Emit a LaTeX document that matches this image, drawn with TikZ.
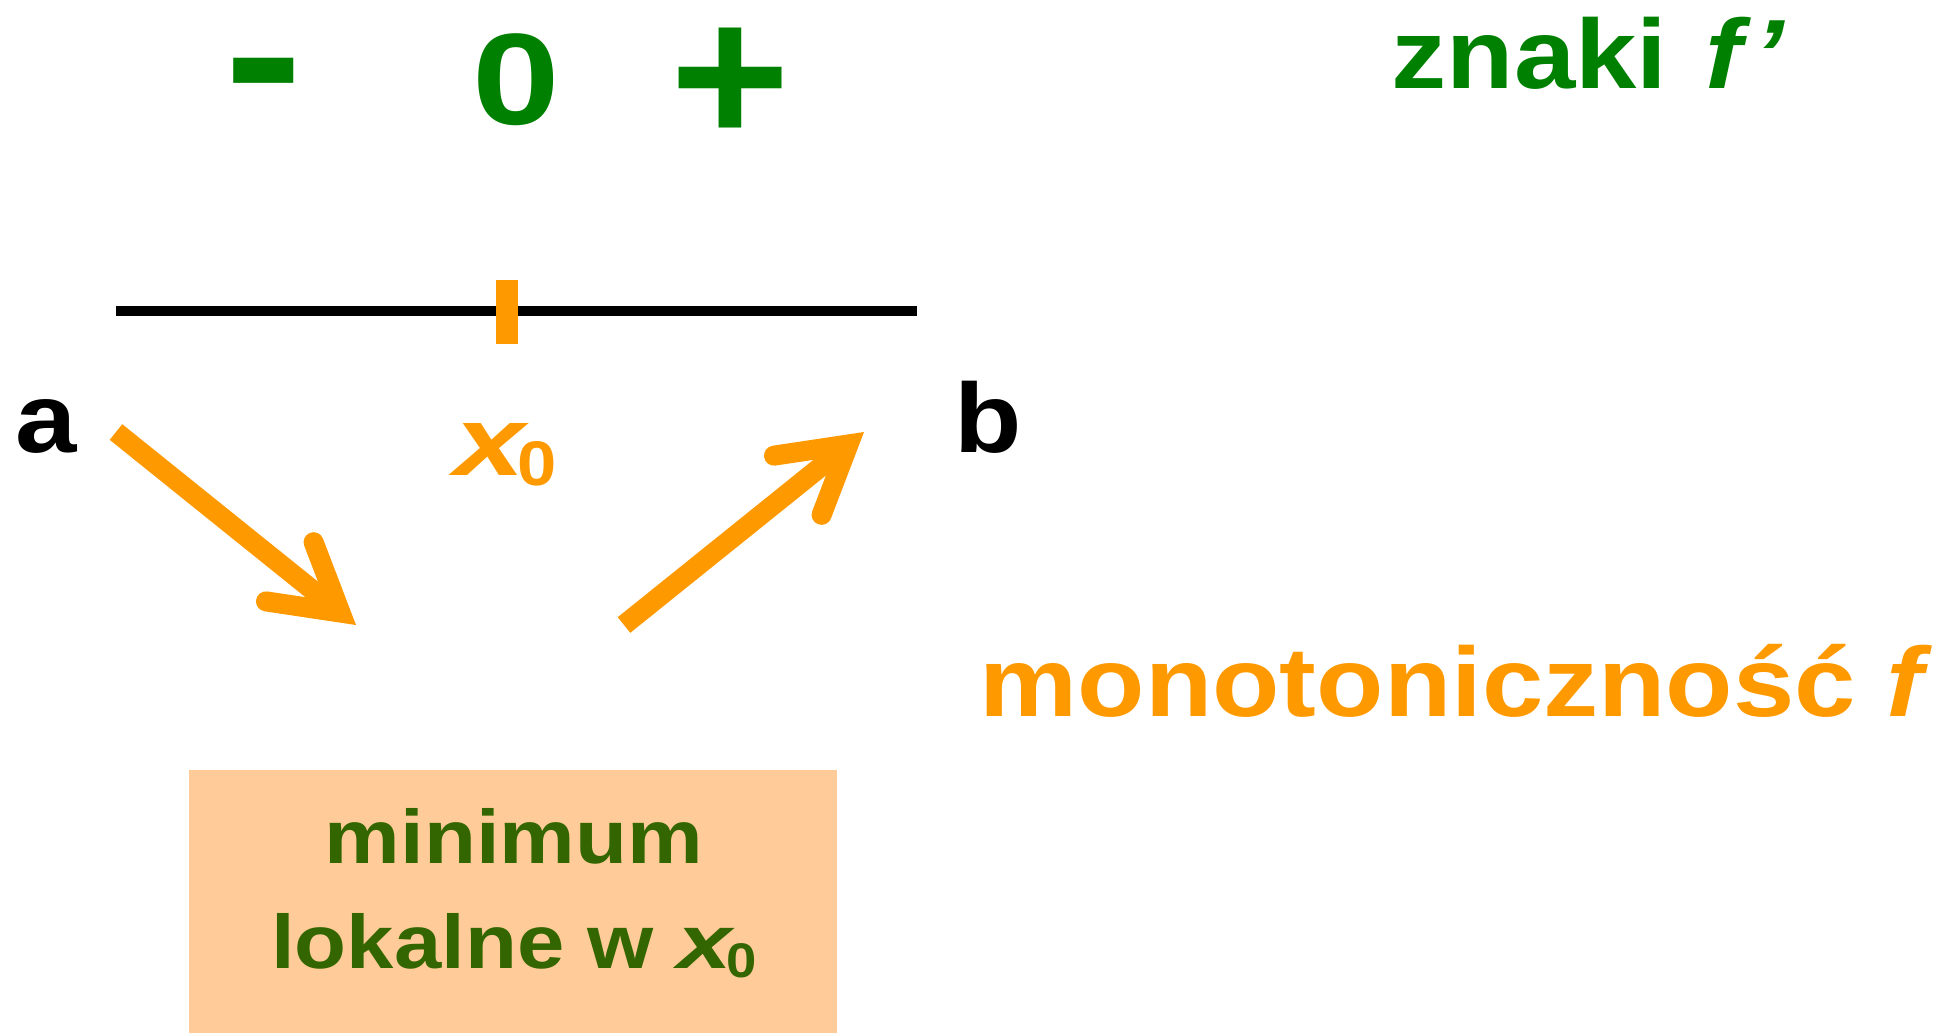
\documentclass[tikz,border=0pt]{standalone}
\usepackage{fontspec}
\setmainfont{Liberation Sans}[FakeStretch=1.12]
\usepackage{graphicx}
\usepackage{tikz}
\usetikzlibrary{arrows.meta}

\definecolor{signgreen}{HTML}{008000}
\definecolor{mono}{HTML}{FF9900}
\definecolor{peach}{HTML}{FFCC99}
\definecolor{boxgreen}{HTML}{336600}

\newcommand{\xzero}{\scalebox{1.15}[1]{\textit{x}}\kern-0.12em\raisebox{-0.11em}{\scalebox{0.64}{0}}}

\begin{document}
\begin{tikzpicture}[x=0.01cm, y=-0.01cm,
    every node/.style={inner sep=0pt},
    sign/.style={text=signgreen, font=\bfseries\fontsize{60}{60}\selectfont, anchor=base},
    lbl/.style={font=\bfseries\fontsize{28}{30}\selectfont, anchor=base west},
    monoline/.style={draw=mono, line width=5.7pt},
    mono/.style={monoline,
      -{Straight Barb[length=18.5pt, width=21.6pt, line cap=round, line join=miter]}},
    minbox/.style={fill=peach, minimum width=6.48cm, minimum height=2.63cm, anchor=north west}]
  \path[use as bounding box] (0,0) rectangle (1957,1032);

  \node[sign] (minus) at (264,125) {-};
  \node[sign, font=\bfseries\fontsize{37}{37}\selectfont] (zero) at (516,124) {\scalebox{1.08}[1]{0}};
  \node[sign, font=\bfseries\fontsize{56}{56}\selectfont] (plus) at (730,143) {\scalebox{0.93}[1]{+}};
  \node[lbl, text=signgreen] (znaki) at (1391,88) {znaki \kern0.07em\textit{f\kern0.12em’}};

  \coordinate (lineL) at (116,311);
  \coordinate (lineR) at (917,311);
  \draw[line width=3.1pt] (lineL) -- (lineR);
  \coordinate (tickT) at (507,280);
  \coordinate (tickB) at (507,344);
  \draw[monoline, line width=6pt] (tickT) -- (tickB);

  \node[lbl] (a) at (15,452) {a};
  \node[lbl] (b) at (954,452) {b};
  \node[lbl, text=mono] (xlabel) at (454,475) {\xzero};

  \foreach \name/\sx/\sy/\ex/\ey in {down/116/432/356/625, up/624/625/864/432}
    {\coordinate (\name s) at (\sx,\sy);
     \coordinate (\name e) at (\ex,\ey);
     \draw[mono] (\name s) -- (\name e);}

  \node[lbl, text=mono] (monot) at (979,716) {monotoniczność \textit{f}};

  \node[minbox] (box) at (188,769) {};
  \node[text=boxgreen, align=center, anchor=north,
    font=\bfseries\fontsize{21.6}{29.9}\selectfont] (extr) at (514,808) {minimum\\lokalne w \xzero};
\end{tikzpicture}
\end{document}
